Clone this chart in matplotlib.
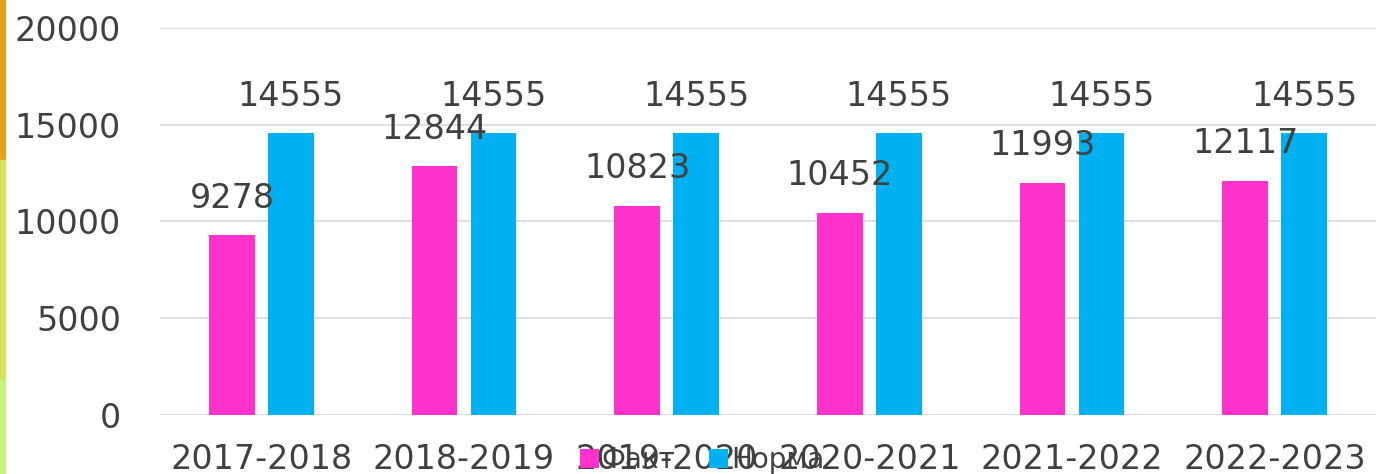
import matplotlib
matplotlib.use("Agg")
import matplotlib.pyplot as plt
import numpy as np
from matplotlib.patches import Rectangle

categories = ["2017-2018", "2018-2019", "2019-2020", "2020-2021", "2021-2022", "2022-2023"]
fact = [9278, 12844, 10823, 10452, 11993, 12117]
norm = [14555, 14555, 14555, 14555, 14555, 14555]
series_names = ["Факт", "Норма"]
yticks = [0, 5000, 10000, 15000, 20000]

PINK = "#FF33CC"
BLUE = "#00B0F0"
TXT = "#404040"
FS = 24

plt.rcParams['font.family'] = ['DejaVu Sans']
fig = plt.figure(figsize=(13.76, 4.74), dpi=100)
ax = fig.add_axes([160/1376, 1-415/474, 1-160/1376, (415-28)/474])

x = np.arange(len(categories))
w = 0.225
off = 0.145
b1 = ax.bar(x - off, fact, w, color=PINK, label=series_names[0], zorder=3)
b2 = ax.bar(x + off, norm, w, color=BLUE, label=series_names[1], zorder=3)

for bars in (b1, b2):
    for r in bars:
        ax.annotate(f"{int(r.get_height())}", (r.get_x() + r.get_width()/2, r.get_height()),
                    xytext=(0, 15), textcoords="offset points", ha="center", va="bottom",
                    fontsize=FS, color=TXT, zorder=5)

ax.set_xlim(-0.5, len(categories) - 0.5)
ax.set_ylim(0, 20000)
ax.set_yticks(yticks)
ax.set_yticklabels([str(v) for v in yticks])
ax.set_xticks(x)
ax.set_xticklabels(categories)
ax.tick_params(axis='both', length=0, labelsize=FS, labelcolor=TXT)
ax.tick_params(axis='y', pad=28)
ax.tick_params(axis='x', pad=20)
ax.grid(axis='y', color="#D9D9D9", linewidth=1.2, zorder=0)
for s in ax.spines.values():
    s.set_visible(False)

leg = fig.legend(loc="center", bbox_to_anchor=(702/1376, 1-460/474), ncol=2, frameon=False,
                 fontsize=20, handlelength=0.7, handleheight=0.7, handletextpad=0.1,
                 columnspacing=1.2, labelcolor=TXT)

# left edge decorative strip
fig.patches.append(Rectangle((0, 1-160/474), 5/1376, 160/474, transform=fig.transFigure, color="#E0A020"))
fig.patches.append(Rectangle((0, 1-380/474), 5/1376, 220/474, transform=fig.transFigure, color="#D4E060"))
fig.patches.append(Rectangle((0, 0), 5/1376, 94/474, transform=fig.transFigure, color="#C8F080"))

fig.savefig("out.png", dpi=100)
